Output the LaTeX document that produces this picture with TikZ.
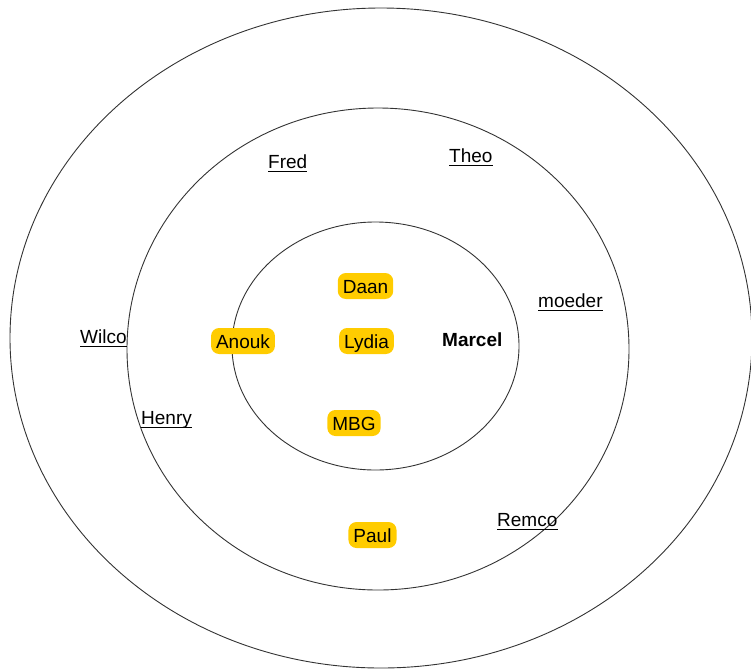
\documentclass[tikz,border=0pt]{standalone}
\usepackage{fontspec}
\setmainfont{Liberation Sans}
\definecolor{hl}{HTML}{FFCC00}
\tikzset{
  ring/.style={draw=black!80, line width=0.9pt},
  hlname/.style={fill=hl, rounded corners=8pt, inner xsep=5pt, inner ysep=3pt,
    text height=17pt, text depth=3pt, anchor=base, font=\fontsize{19}{22}\selectfont},
  ulname/.style={inner sep=0pt, text depth=3pt, anchor=base west, font=\fontsize{19}{22}\selectfont},
  uline/.style={draw=black, line width=1.3pt},
  boldname/.style={inner sep=0pt, anchor=base west, font=\fontsize{19}{22}\selectfont\bfseries}
}
\begin{document}
\begin{tikzpicture}[x=1pt,y=-1pt]
\useasboundingbox (0,0) rectangle (751,670);
% rings
\draw[ring] (381,338) ellipse [x radius=371, y radius=330];
\draw[ring] (378,349) ellipse [x radius=251, y radius=241];
\draw[ring] (375.5,346) ellipse [x radius=143.5, y radius=124];
% highlighted names
\node[hlname] (daan)  at (365.5,293) {Daan};
\node[hlname] (lydia) at (366.5,348) {Lydia};
\node[hlname] (anouk) at (243,348) {Anouk};
\node[hlname] (mbg)   at (354,430) {MBG};
\node[hlname] (paul)  at (372.5,542) {Paul};
% centre name
\node[boldname] (marcel) at (442,346) {Marcel};
% underlined names
\node[ulname] (fred)   at (268,168) {Fred};
\node[ulname] (theo)   at (449,162) {Theo};
\node[ulname] (moeder) at (538,307) {moeder};
\node[ulname] (wilco)  at (80,343) {Wilco};
\node[ulname] (henry)  at (141,424) {Henry};
\node[ulname] (remco)  at (497,526) {Remco};
\foreach \n in {fred,theo,moeder,wilco,henry,remco}
  \draw[uline] (\n.south west) -- (\n.south east);
\end{tikzpicture}
\end{document}
